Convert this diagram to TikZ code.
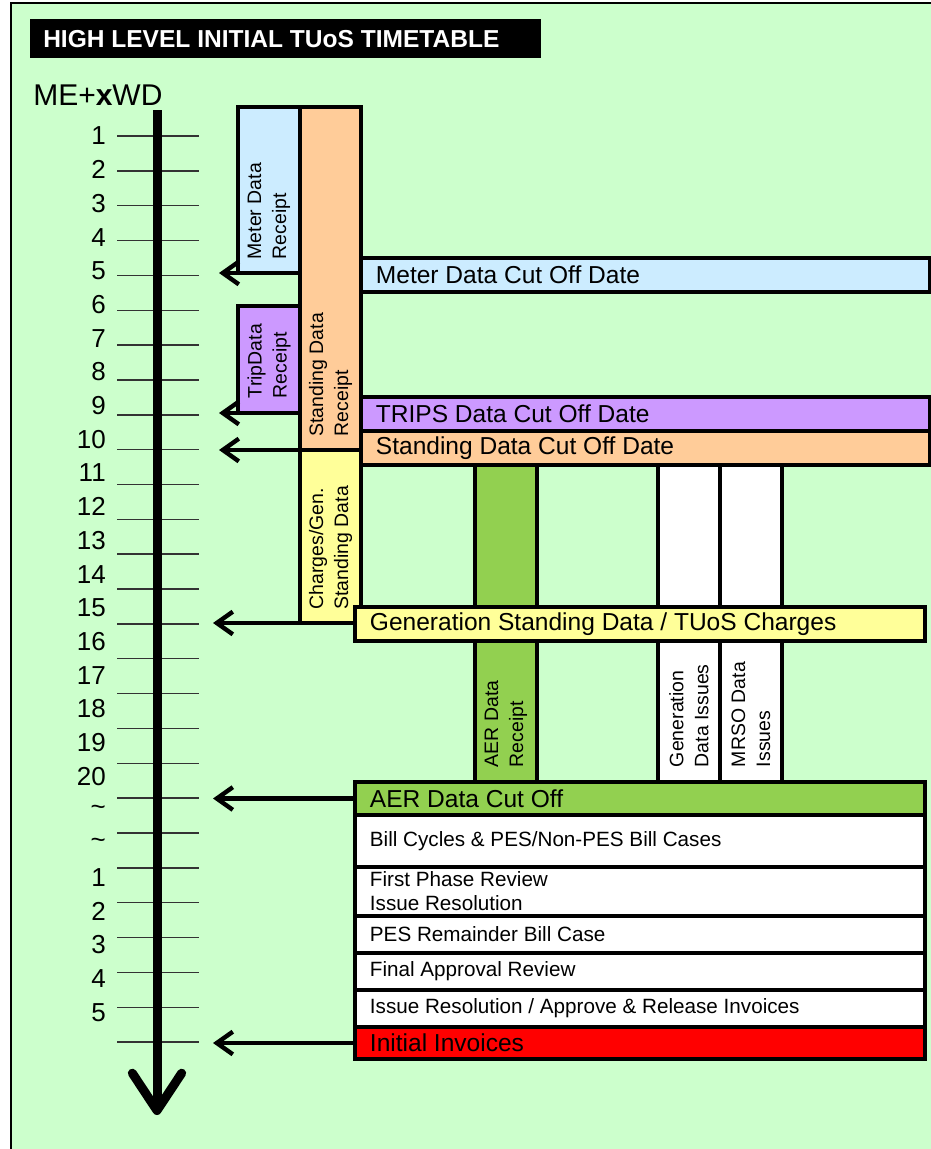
\documentclass[tikz,border=0pt]{standalone}
\usepackage{fontspec}
\setmainfont{Liberation Sans}
\usetikzlibrary{arrows.meta,positioning,fit}

\definecolor{panelgreen}{HTML}{CCFFCC}
\definecolor{mtrblue}{HTML}{CCECFF}
\definecolor{stdorange}{HTML}{FFCC99}
\definecolor{trplilac}{HTML}{CC99FF}
\definecolor{chgyellow}{HTML}{FFFF99}
\definecolor{aergreen}{HTML}{92D050}

\begin{document}
\begin{tikzpicture}[
  x=0.75pt, y=-0.75pt,
  blk/.style={draw=black, line width=2.3pt, inner sep=0pt, outer sep=0pt},
  bartxt/.style={font=\fontsize{18.4}{20}\selectfont, anchor=west, inner sep=0pt},
  smltxt/.style={font=\fontsize{15.5}{18}\selectfont, anchor=west, inner sep=0pt, align=left},
  vlbl/.style={font=\fontsize{14.6}{18.75}\selectfont, rotate=90, anchor=west, inner sep=0pt, align=left},
  daynum/.style={font=\fontsize{19.5}{20}\selectfont, anchor=east, inner sep=0pt},
  daytick/.style={line width=1.1pt, draw=black!80},
  cut/.style={line width=3.3pt, -{Straight Barb[length=12pt,width=17pt]}},
  timeaxis/.style={line width=6.75pt, -{Straight Barb[length=28pt,width=37pt,round]}},
]
\useasboundingbox (0,0) rectangle (931,1149);
\fill[white] (0,0) rectangle (931,1149);

% ---------- panel and title ----------
\fill[panelgreen] (11,3) rectangle (931,1149);
\draw[line width=1.5pt] (11,1149) -- (11,3) -- (931,3);
\node[fill=black, inner sep=0pt, outer sep=0pt, fit={(30,19) (541,58)}] (titlebox) {};
\node[font=\bfseries\fontsize{18.4}{20}\selectfont, text=white, anchor=west, inner sep=0pt]
  (title) at (43,39) {HIGH LEVEL INITIAL TUoS TIMETABLE};
\node[font=\fontsize{22.5}{24}\selectfont, anchor=west, inner sep=0pt] (unit) at (33,95) {ME+\textbf{x}WD};

% ---------- working day scale ----------
\foreach \k in {0,...,26}
  \draw[daytick] (117,{136+\k*34.85}) -- (199,{136+\k*34.85});
\foreach \n in {1,...,20}
  \node[daynum] (wd\n) at (106,{136+(\n-1)*33.7}) {\n};
\node[daynum] (gap1) at (106,{136+20*33.7}) {\textasciitilde};
\node[daynum] (gap2) at (106,{136+21*33.7}) {\textasciitilde};
\foreach \n in {1,...,5}
  \node[daynum] (nx\n) at (106,{136+(21+\n)*33.7}) {\n};
\coordinate (axtop) at (157,110);
\coordinate (axend) at (157,1115);
\draw[timeaxis] (axtop) -- (axend);
\coordinate (tipA) at (219,0);
\coordinate (tipB) at (213,0);

% ---------- data issue columns ----------
\node[blk, fill=aergreen, fit={(475,465) (537,782)}] (aer) {};
\node[blk, fill=white, fit={(658,465) (720,782)}] (gdi) {};
\node[blk, fill=white, fit={(720,465) (782,782)}] (mri) {};

% ---------- receipts ----------
\node[blk, fill=mtrblue, fit={(238,107) (300,273)}] (mdr) {};
\node[blk, fill=stdorange, fit={(300,107) (361,450)}] (sdr) {};
\node[blk, fill=trplilac, fit={(238,306) (300,413)}] (tdr) {};
\node[blk, fill=chgyellow, fit={(300,450) (361,623)}] (cgs) {};

% ---------- cut off bars ----------
\node[blk, fill=mtrblue, fit={(361,258) (930,292)}] (mco) {};
\node[blk, fill=trplilac, fit={(361,397) (930,431)}] (tco) {};
\node[blk, fill=stdorange, fit={(361,431) (930,465)}] (sco) {};
\node[blk, fill=chgyellow, fit={(355,607) (925,641)}] (gst) {};
\node[blk, fill=aergreen, fit={(355,782) (925,815)}] (aco) {};
\node[blk, fill=white, fit={(355,815) (925,867)}] (bill) {};
\node[blk, fill=white, fit={(355,867) (925,916)}] (fpr) {};
\node[blk, fill=white, fit={(355,916) (925,953)}] (pes) {};
\node[blk, fill=white, fit={(355,953) (925,990)}] (far) {};
\node[blk, fill=white, fit={(355,990) (925,1027)}] (irr) {};
\node[blk, fill=red, fit={(355,1027) (925,1059)}] (inv) {};

% ---------- labels ----------
\node[vlbl] (mdrtxt) at ([yshift=10pt]mdr.south) {Meter Data\\Receipt};
\node[vlbl] (sdrtxt) at ([yshift=10pt]sdr.south) {Standing Data\\Receipt};
\node[vlbl] (tdrtxt) at ([yshift=11pt]tdr.south) {TripData\\Receipt};
\node[vlbl] (cgstxt) at ([yshift=10pt]cgs.south) {Charges/Gen.\\Standing Data};
\node[vlbl] (aertxt) at ([yshift=11pt]aer.south) {AER Data\\Receipt};
\node[vlbl] (gditxt) at ([yshift=11pt]gdi.south) {Generation\\Data Issues};
\node[vlbl] (mritxt) at ([yshift=11pt]mri.south) {MRSO Data\\Issues};
\node[bartxt, right=11pt of mco.west] (mcotxt) {Meter Data Cut Off Date};
\node[bartxt, right=11pt of tco.west] (tcotxt) {TRIPS Data Cut Off Date};
\node[bartxt, right=11pt of sco.west] (scotxt) {Standing Data Cut Off Date};
\node[bartxt, right=11pt of gst.west] (gsttxt) {Generation Standing Data / TUoS Charges};
\node[bartxt, right=11pt of aco.west] (acotxt) {AER Data Cut Off};
\node[smltxt, right=11pt of bill.west] (billtxt) {Bill Cycles \& PES/Non-PES Bill Cases};
\node[smltxt, right=11pt of fpr.west] (fprtxt) {First Phase Review\\Issue Resolution};
\node[smltxt, right=11pt of pes.west] (pestxt) {PES Remainder Bill Case};
\node[smltxt, right=11pt of far.west] (fartxt) {Final Approval Review};
\node[smltxt, right=11pt of irr.west] (irrtxt) {Issue Resolution / Approve \& Release Invoices};
\node[bartxt, right=11pt of inv.west] (invtxt) {Initial Invoices};

% ---------- deadlines onto the scale ----------
\draw[cut] (mdr.south west) -- (mdr.south west -| tipA);
\draw[cut] (tdr.south west) -- (tdr.south west -| tipA);
\draw[cut] (sdr.south west) -- (sdr.south west -| tipA);
\draw[cut] (cgs.south -| gst.west) -- (cgs.south -| tipB);
\draw[cut] (aco.west) -- (aco.west -| tipB);
\draw[cut] (inv.west) -- (inv.west -| tipB);
\end{tikzpicture}
\end{document}
